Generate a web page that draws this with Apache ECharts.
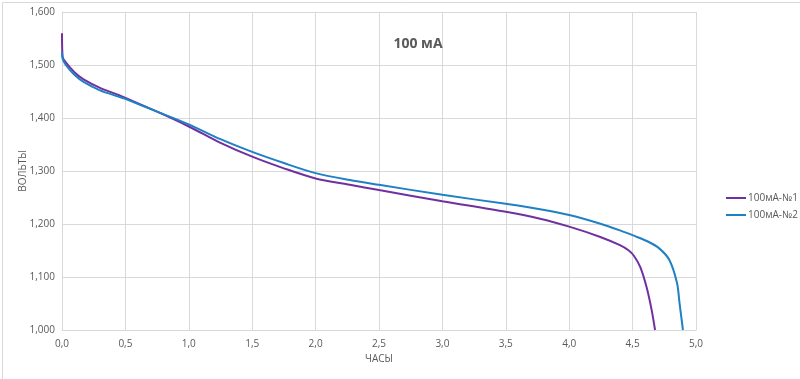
<!DOCTYPE html>
<html>
<head>
<meta charset="utf-8">
<script src="https://cdn.jsdelivr.net/npm/echarts@6/dist/echarts.min.js"></script>
<style>
html,body{margin:0;padding:0;background:#fff;}
#c{width:800px;height:379px;}
</style>
</head>
<body>
<div id="c"></div>
<script>
const titleText = '100 мА';
const xName = 'ЧАСЫ';
const yName = 'ВОЛЬТЫ';
const seriesNames = ['100мА-№1', '100мА-№2'];

const hours1 = [0, 0.005, 0.03, 0.1, 0.17, 0.3, 0.45, 0.5, 0.75, 1.0, 1.25, 1.5, 1.75, 2.0, 2.27, 2.5, 3.0, 3.5, 3.77, 4.0, 4.24, 4.4, 4.47, 4.51, 4.56, 4.61, 4.65, 4.677];
const volts1 = [1.560, 1.515, 1.505, 1.486, 1.473, 1.457, 1.443, 1.438, 1.412, 1.384, 1.353, 1.327, 1.305, 1.286, 1.274, 1.264, 1.243, 1.223, 1.210, 1.195, 1.176, 1.160, 1.150, 1.140, 1.119, 1.081, 1.038, 1.000];

const hours2 = [0, 0.005, 0.03, 0.1, 0.17, 0.3, 0.45, 0.5, 0.75, 1.0, 1.25, 1.5, 1.75, 2.0, 2.27, 2.5, 3.0, 3.5, 3.77, 4.0, 4.24, 4.4, 4.52, 4.62, 4.71, 4.79, 4.85, 4.87, 4.897];
const volts2 = [1.525, 1.512, 1.500, 1.481, 1.468, 1.452, 1.440, 1.436, 1.412, 1.388, 1.360, 1.336, 1.315, 1.296, 1.283, 1.274, 1.255, 1.238, 1.228, 1.217, 1.201, 1.188, 1.177, 1.167, 1.154, 1.132, 1.089, 1.051, 1.000];

const colors = ['#7030a0', '#1f80c4'];
const txt = '#595959';
const fontFam = '"Open Sans", "Noto Sans", sans-serif';

function pairs(xs, ys) { return xs.map((x, i) => [x, ys[i]]); }

const chart = echarts.init(document.getElementById('c'));
chart.setOption({
  animation: false,
  backgroundColor: '#fff',
  title: {
    text: titleText,
    left: 413, top: 32, textAlign: 'center',
    textStyle: { fontFamily: fontFam, fontSize: 14, fontWeight: 'bold', color: txt }
  },
  legend: {
    orient: 'vertical',
    left: 721, top: 188,
    itemWidth: 20, itemHeight: 2, itemGap: 7,
    icon: 'rect',
    textStyle: { fontFamily: fontFam, fontSize: 10, color: txt, padding: [0, 0, 0, -3] },
    data: seriesNames
  },
  grid: { left: 62, right: 104, top: 12, bottom: 49 },
  xAxis: {
    type: 'value', min: 0, max: 5, interval: 0.5,
    name: xName, nameLocation: 'middle', nameGap: 23,
    nameTextStyle: { fontFamily: fontFam, fontSize: 10, color: txt },
    axisLine: { show: true, lineStyle: { color: '#d9d9d9' } },
    axisTick: { show: false },
    axisLabel: { fontFamily: fontFam, fontSize: 10, color: txt, margin: 9,
      formatter: v => v.toFixed(1).replace('.', ',') },
    splitLine: { show: true, lineStyle: { color: '#d9d9d9' } }
  },
  yAxis: {
    type: 'value', min: 1.0, max: 1.6, interval: 0.1,
    name: yName, nameLocation: 'middle', nameGap: 34, nameMoveOverlap: false,
    nameTextStyle: { fontFamily: fontFam, fontSize: 10, color: txt },
    axisLine: { show: true, lineStyle: { color: '#d9d9d9' } },
    axisTick: { show: false },
    axisLabel: { fontFamily: fontFam, fontSize: 10, color: txt, margin: 7,
      formatter: v => v.toFixed(3).replace('.', ',') },
    splitLine: { show: true, lineStyle: { color: '#d9d9d9' } }
  },
  graphic: [{
    type: 'rect', left: 0, top: 0, silent: true,
    shape: { x: 0.5, y: 0.5, width: 799, height: 378 },
    style: { fill: 'none', stroke: '#d9d9d9', lineWidth: 1 }
  }],
  series: [
    { name: seriesNames[0], type: 'line', data: pairs(hours1, volts1), showSymbol: false,
      smooth: 0.3,
      lineStyle: { color: colors[0], width: 2 }, itemStyle: { color: colors[0] } },
    { name: seriesNames[1], type: 'line', data: pairs(hours2, volts2), showSymbol: false,
      smooth: 0.3,
      lineStyle: { color: colors[1], width: 2 }, itemStyle: { color: colors[1] } }
  ]
});
</script>
</body>
</html>
